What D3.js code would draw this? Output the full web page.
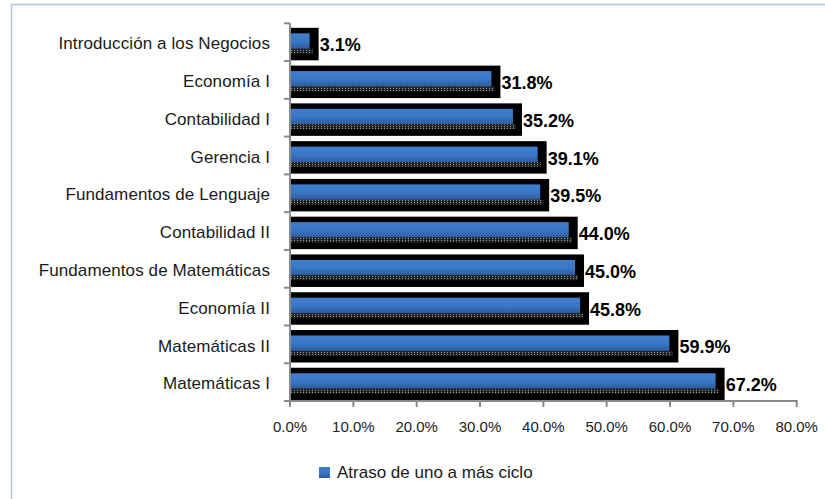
<!DOCTYPE html>
<html>
<head>
<meta charset="utf-8">
<script src="https://cdn.jsdelivr.net/npm/d3@7"></script>
<style>
  body { margin: 0; background: #fff; }
  svg { font-family: "Liberation Sans", Arial, sans-serif; }
</style>
</head>
<body>
<div class="bar-chart"></div>
<script>
const categories = ["Introducción a los Negocios", "Economía I", "Contabilidad I", "Gerencia I",
  "Fundamentos de Lenguaje", "Contabilidad II", "Fundamentos de Matemáticas", "Economía II",
  "Matemáticas II", "Matemáticas I"];
const values = [0.031, 0.318, 0.352, 0.391, 0.395, 0.440, 0.450, 0.458, 0.599, 0.672];
const ticks = [0, 0.1, 0.2, 0.3, 0.4, 0.5, 0.6, 0.7, 0.8];
const seriesName = "Atraso de uno a más ciclo";

const width = 825;
const height = 499;

const svg = d3.select('.bar-chart').append('svg')
  .attr('width', width).attr('height', height)
  .attr('viewBox', [0, 0, width, height]);

// frame
svg.append('rect')
  .attr('x', 11.5).attr('y', 4.5).attr('width', 830).attr('height', 520)
  .attr('fill', 'none').attr('stroke', '#b3c6e8').attr('stroke-width', 1.5);

const defs = svg.append('defs');
const grad = defs.append('linearGradient').attr('id', 'blue').attr('x1', 0).attr('x2', 0).attr('y1', 0).attr('y2', 1);
grad.append('stop').attr('offset', '0%').attr('stop-color', '#3f7fcf');
grad.append('stop').attr('offset', '55%').attr('stop-color', '#3a76c4');
grad.append('stop').attr('offset', '100%').attr('stop-color', '#2d5a9c');

const pat = defs.append('pattern').attr('id', 'dots')
  .attr('patternUnits', 'userSpaceOnUse').attr('width', 3).attr('height', 2);
pat.append('rect').attr('width', 3).attr('height', 2).attr('fill', '#222');
pat.append('rect').attr('width', 1).attr('height', 1).attr('fill', '#9a9a9a');

const x = d3.scaleLinear().domain([0, 0.8]).range([290, 796.7]);
const y = d3.scaleBand().domain(categories).range([23.3, 401]).padding(0);
const bw = y.bandwidth();
const fmt = d3.format('.1%');

const bars = svg.append('g').selectAll('g')
  .data(categories)
  .join('g');

bars.append('rect')
  .attr('x', x(0))
  .attr('y', d => y(d) + 0.12 * bw)
  .attr('width', (d, i) => x(values[i]) - x(0) + 9)
  .attr('height', 0.86 * bw)
  .attr('fill', '#000');

bars.append('rect')
  .attr('x', x(0))
  .attr('y', d => y(d) + 0.265 * bw)
  .attr('width', (d, i) => x(values[i]) - x(0))
  .attr('height', 0.41 * bw)
  .attr('fill', 'url(#blue)');

bars.append('rect')
  .attr('x', x(0))
  .attr('y', d => y(d) + 0.675 * bw)
  .attr('width', (d, i) => x(values[i]) - x(0) + 3)
  .attr('height', 0.125 * bw)
  .attr('fill', 'url(#dots)');

bars.append('text')
  .attr('x', (d, i) => x(values[i]) + 10)
  .attr('y', d => y(d) + 0.74 * bw)
  .attr('font-size', 18).attr('font-weight', 'bold').attr('fill', '#000')
  .text((d, i) => fmt(values[i]));

// category labels
svg.append('g').selectAll('text')
  .data(categories)
  .join('text')
  .attr('x', 270)
  .attr('y', d => y(d) + 0.69 * bw)
  .attr('text-anchor', 'end')
  .attr('font-size', 17).attr('fill', '#1a1a1a')
  .attr('letter-spacing', 0.1)
  .text(d => d);

// axes
const axisColor = '#8a8a8a';
const ax = svg.append('g');
ax.append('line')
  .attr('x1', x(0)).attr('x2', x(0)).attr('y1', y.range()[0]).attr('y2', y.range()[1])
  .attr('stroke', axisColor).attr('stroke-width', 2);
ax.selectAll('.ytick')
  .data(categories.concat(['end']))
  .join('line')
  .attr('class', 'ytick')
  .attr('x1', x(0) - 6).attr('x2', x(0))
  .attr('y1', (d, i) => y.range()[0] + i * bw)
  .attr('y2', (d, i) => y.range()[0] + i * bw)
  .attr('stroke', axisColor).attr('stroke-width', 2);

ax.append('line')
  .attr('x1', x(0) - 1).attr('x2', x(0.8) + 1).attr('y1', y.range()[1]).attr('y2', y.range()[1])
  .attr('stroke', axisColor).attr('stroke-width', 2);
ax.selectAll('.xtick')
  .data(ticks)
  .join('line')
  .attr('class', 'xtick')
  .attr('x1', d => x(d)).attr('x2', d => x(d))
  .attr('y1', y.range()[1]).attr('y2', y.range()[1] + 6)
  .attr('stroke', axisColor).attr('stroke-width', 2);
ax.selectAll('.xlabel')
  .data(ticks)
  .join('text')
  .attr('class', 'xlabel')
  .attr('x', d => x(d))
  .attr('y', 431.7)
  .attr('text-anchor', 'middle')
  .attr('font-size', 15).attr('fill', '#222')
  .text(d => fmt(d));

// legend
const legend = svg.append('g').attr('transform', 'translate(319,467)');
legend.append('rect').attr('width', 11).attr('height', 11).attr('fill', 'url(#blue)');
legend.append('text').attr('x', 18).attr('y', 11)
  .attr('font-size', 17).attr('fill', '#1a1a1a')
  .text(seriesName);
</script>
</body>
</html>
